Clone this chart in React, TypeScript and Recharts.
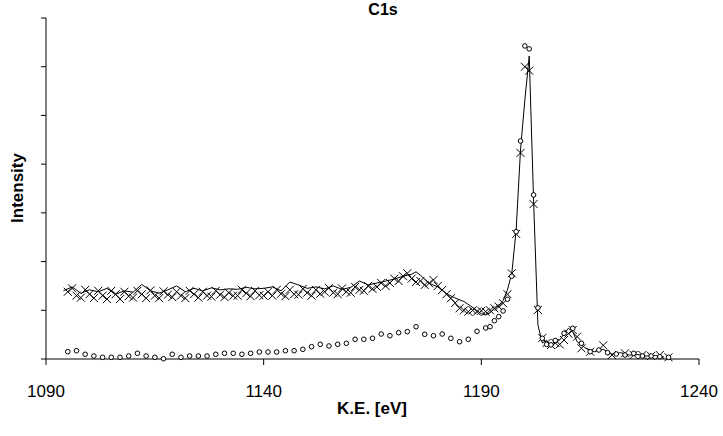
import { ComposedChart, Line, Scatter, XAxis, YAxis } from 'recharts';

// solid line spectrum
const lineEv = [
  1094, 1096, 1098, 1100, 1102, 1104, 1106, 1108, 1110, 1112, 1114, 1116, 1118, 1120,
  1122, 1124, 1126, 1128, 1130, 1132, 1134, 1136, 1138, 1140, 1142, 1144, 1146, 1148,
  1150, 1152, 1154, 1156, 1158, 1160, 1162, 1164, 1166, 1168, 1170, 1172, 1174, 1175,
  1176, 1178, 1180, 1182, 1184, 1186, 1188, 1190, 1191, 1192, 1193, 1194, 1195, 1196, 1197,
  1198, 1199, 1200, 1201, 1202, 1203, 1204, 1205, 1206, 1207, 1208, 1209, 1210, 1211,
  1212, 1214, 1216, 1218, 1220, 1222, 1224, 1226, 1228, 1230, 1232,
];
const lineInt = [
  1400, 1480, 1350, 1420, 1380, 1450, 1330, 1400, 1370, 1530, 1400, 1350, 1420, 1500,
  1380, 1450, 1400, 1460, 1420, 1440, 1430, 1470, 1440, 1450, 1480, 1400, 1580, 1520,
  1450, 1480, 1440, 1500, 1430, 1470, 1600, 1520, 1560, 1600, 1640, 1700, 1740, 1790,
  1720, 1554, 1480, 1340, 1250, 1180, 1060, 930, 903, 950, 1030, 1100, 1200, 1420, 1760,
  2650, 4290, 5320, 6220, 3265, 700, 330, 380, 270, 330, 390, 520, 630, 560,
  355, 220, 150, 200, 100, 130, 80, 90, 60, 70, 40,
];

// x markers
const crossEv = [
  1095, 1096, 1097, 1098, 1099, 1100, 1101, 1102, 1103, 1104,
  1105, 1106, 1107, 1108, 1109, 1110, 1111, 1112, 1113, 1114,
  1115, 1116, 1117, 1118, 1119, 1120, 1121, 1122, 1123, 1124,
  1125, 1126, 1127, 1128, 1129, 1130, 1131, 1132, 1133, 1134,
  1135, 1136, 1137, 1138, 1139, 1140, 1141, 1142, 1143, 1144,
  1145, 1146, 1147, 1148, 1149, 1150, 1151, 1152, 1153, 1154,
  1155, 1156, 1157, 1158, 1159, 1160, 1161, 1162, 1163, 1164,
  1165, 1166, 1167, 1168, 1169, 1170, 1171, 1172, 1173, 1174,
  1175, 1176, 1177, 1178, 1179, 1180, 1181, 1182, 1183, 1184,
  1185, 1186, 1187, 1188, 1189, 1190, 1191, 1192, 1193, 1194,
  1195, 1196, 1197, 1198, 1199, 1200, 1201, 1202, 1203, 1204,
  1205, 1206, 1207, 1208, 1209, 1210, 1211, 1212, 1213, 1215,
  1218, 1220, 1223, 1225, 1227, 1229, 1231, 1233,
];
const crossInt = [
  1380, 1450, 1300, 1260, 1420, 1330, 1250, 1400, 1300, 1230,
  1400, 1330, 1230, 1380, 1290, 1260, 1400, 1330, 1250, 1410,
  1300, 1250, 1390, 1320, 1270, 1380, 1300, 1250, 1400, 1330,
  1260, 1380, 1300, 1280, 1400, 1320, 1270, 1360, 1300, 1300,
  1420, 1350, 1290, 1400, 1310, 1300, 1380, 1300, 1420, 1340,
  1290, 1420, 1330, 1320, 1440, 1360, 1300, 1420, 1340, 1380,
  1460, 1360, 1330, 1450, 1380, 1360, 1480, 1420, 1400, 1500,
  1440, 1480, 1560, 1500, 1560, 1650, 1600, 1700, 1760, 1650,
  1580, 1600, 1520, 1554, 1622, 1500, 1417, 1330, 1246, 1150,
  1041, 1000, 971, 1000, 971, 990, 971, 1000, 1041, 1074,
  1144, 1330, 1760, 2567, 4230, 6000, 5920, 3180, 1006, 431,
  330, 287, 330, 300, 390, 520, 595, 458, 220, 150,
  280, 82, 117, 82, 82, 62, 82, 35,
];

// open circles
const circleEv = [
  1095, 1097, 1099, 1101, 1103, 1105, 1107, 1109, 1111, 1113, 1115, 1117, 1119, 1121,
  1123, 1125, 1127, 1129, 1131, 1133, 1135, 1137, 1139, 1141, 1143, 1145, 1147, 1149,
  1151, 1153, 1155, 1157, 1159, 1161, 1163, 1165, 1167, 1169, 1171, 1173, 1175, 1177,
  1179, 1181, 1183, 1185, 1187, 1189, 1191, 1192, 1193, 1194, 1195, 1196, 1197, 1198,
  1199, 1200, 1201, 1202, 1203, 1204, 1205, 1206, 1207, 1209, 1211, 1213, 1215, 1217,
  1219, 1221, 1223, 1225, 1227, 1229, 1231, 1233,
];
const circleInt = [
  150, 170, 97, 62, 35, 35, 35, 62, 117, 62, 35, 6, 97, 35,
  62, 62, 62, 97, 117, 117, 97, 117, 144, 144, 144, 170, 170, 199,
  253, 302, 267, 302, 322, 405, 405, 425, 513, 478, 540, 561, 663, 507,
  478, 513, 425, 355, 405, 569, 637, 663, 786, 869, 986, 1226, 1700, 2614,
  4476, 6427, 6366, 3368, 1050, 425, 300, 290, 380, 528, 630, 322, 150, 185,
  130, 103, 82, 117, 62, 62, 47, 35,
];

const xTicks = [1090, 1140, 1190, 1240];
const yTicks = [0, 1000, 2000, 3000, 4000, 5000, 6000, 7000];

const lineData = lineEv.map((x, i) => ({ x, y: lineInt[i] }));
const crossData = crossEv.map((x, i) => ({ x, y: crossInt[i] }));
const circleData = circleEv.map((x, i) => ({ x, y: circleInt[i] }));

const FONT = '"Liberation Sans", Arial, sans-serif';

function Cross(props: any) {
  const { cx, cy } = props;
  if (cx == null || cy == null) return null;
  const s = 4;
  return (
    <g stroke="#000" strokeWidth={1}>
      <line x1={cx - s} y1={cy - s} x2={cx + s} y2={cy + s} />
      <line x1={cx - s} y1={cy + s} x2={cx + s} y2={cy - s} />
    </g>
  );
}

function Ring(props: any) {
  const { cx, cy } = props;
  if (cx == null || cy == null) return null;
  return <circle cx={cx} cy={cy} r={2.3} fill="#fff" stroke="#000" strokeWidth={1} />;
}

export default function App() {
  return (
    <div style={{ position: 'absolute', left: 0, top: 0, width: 723, height: 436, background: '#fff', fontFamily: FONT }}>
      <ComposedChart
        width={723}
        height={436}
        margin={{ top: 18, right: 24, bottom: 37, left: 36 }}
      >
        <XAxis
          dataKey="x"
          type="number"
          domain={[1090, 1240]}
          ticks={xTicks}
          allowDataOverflow
          height={40}
          stroke="#000"
          tickSize={6}
          tickMargin={20}
          tick={{ fontSize: 17, fill: '#000', fontFamily: FONT }}
        />
        <YAxis
          dataKey="y"
          type="number"
          domain={[0, 7000]}
          ticks={yTicks}
          width={10}
          stroke="#000"
          tickSize={5}
          tickFormatter={() => ''}
        />
        <Line
          data={lineData}
          dataKey="y"
          type="linear"
          stroke="#000"
          strokeWidth={1}
          dot={false}
          activeDot={false}
          isAnimationActive={false}
        />
        <Scatter data={crossData} dataKey="y" shape={Cross} isAnimationActive={false} />
        <Scatter data={circleData} dataKey="y" shape={Ring} isAnimationActive={false} />
      </ComposedChart>
      <div style={{ position: 'absolute', left: 383, top: 1, transform: 'translateX(-50%)', fontSize: 16, fontWeight: 'bold', whiteSpace: 'nowrap' }}>
        C1s
      </div>
      <div style={{ position: 'absolute', left: 372, top: 399, transform: 'translateX(-50%)', fontSize: 17, fontWeight: 'bold', whiteSpace: 'nowrap' }}>
        K.E. [eV]
      </div>
      <div style={{ position: 'absolute', left: 18, top: 188, transform: 'translate(-50%, -50%) rotate(-90deg)', fontSize: 17, fontWeight: 'bold', whiteSpace: 'nowrap' }}>
        Intensity
      </div>
    </div>
  );
}
